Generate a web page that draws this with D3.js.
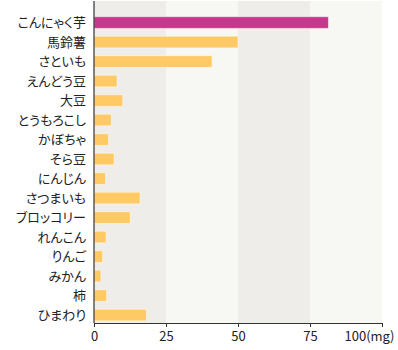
<!DOCTYPE html>
<html>
<head>
<meta charset="utf-8">
<script src="https://cdn.jsdelivr.net/npm/d3@7"></script>
<style>
  body { margin: 0; background: #fff; }
  svg text { font-family: "Noto Sans CJK JP", "Noto Sans", sans-serif; fill: #222; }
  .cat { font-feature-settings: "palt"; }
</style>
</head>
<body>
<div id="chart"></div>
<script>
const categories = ["こんにゃく芋", "馬鈴薯", "さといも", "えんどう豆", "大豆", "とうもろこし", "かぼちゃ",
  "そら豆", "にんじん", "さつまいも", "ブロッコリー", "れんこん", "りんご", "みかん", "柿", "ひまわり"]
const values = [81.4, 50, 41, 8, 10, 6, 5, 7, 4, 16, 12.6, 4.2, 3, 2.4, 4.4, 18.2]
const tickValues = [0, 25, 50, 75, 100]
const bands = [[0, 25], [25, 50], [50, 75], [75, 100]]

const width = 398
const height = 350

let svg = d3.select("#chart")
  .append("svg")
  .attr("width", width)
  .attr("height", height)

let x = d3.scaleLinear().domain([0, 100]).range([94, 382])
let y = d3.scaleBand().domain(categories).range([12.8, 324.8])
  .paddingInner(0.4).paddingOuter(0.2)

const plotTop = 1, plotBottom = 323

// background bands
svg.append("g")
  .selectAll("rect")
  .data(bands)
  .join("rect")
  .attr("x", d => x(d[0]))
  .attr("y", plotTop)
  .attr("width", d => x(d[1]) - x(d[0]))
  .attr("height", plotBottom - plotTop)
  .attr("fill", (d, i) => i % 2 == 0 ? "#eeede9" : "#f7f7f4")

// bars
svg.append("g")
  .selectAll("rect")
  .data(values)
  .join("rect")
  .attr("x", x(0))
  .attr("y", (d, i) => y(categories[i]))
  .attr("width", d => x(d) - x(0))
  .attr("height", y.bandwidth())
  .attr("fill", (d, i) => i == 0 ? "#c4398b" : "#ffca66")
  .attr("stroke", "#ffffff")
  .attr("stroke-opacity", 0.5)
  .attr("stroke-width", 1)

// category labels
svg.append("g")
  .selectAll("text")
  .data(categories)
  .join("text")
  .attr("class", "cat")
  .attr("x", 86)
  .attr("y", d => y(d) + y.bandwidth() / 2)
  .attr("dy", "0.36em")
  .attr("text-anchor", "end")
  .style("font-size", "13px")
  .text(d => d)

// left spine
svg.append("line")
  .attr("x1", x(0)).attr("x2", x(0))
  .attr("y1", plotTop).attr("y2", plotBottom)
  .attr("stroke", "#333")
  .attr("stroke-width", 1.2)

// x axis
let xAxis = svg.append("g")
  .attr("transform", "translate(0," + plotBottom + ")")
  .call(d3.axisBottom(x).tickValues(tickValues).tickSize(4).tickSizeOuter(0)
    .tickFormat(d => d == 100 ? "100(mg)" : d))

xAxis.select(".domain").attr("stroke", "#333")
xAxis.selectAll(".tick line").attr("stroke", "#333")
xAxis.selectAll(".tick text")
  .style("font-size", "13px")
  .attr("y", 9)
  .attr("fill", "#222")
  .filter(d => d == 100)
  .attr("text-anchor", "end")
  .attr("x", 12)
</script>
</body>
</html>
